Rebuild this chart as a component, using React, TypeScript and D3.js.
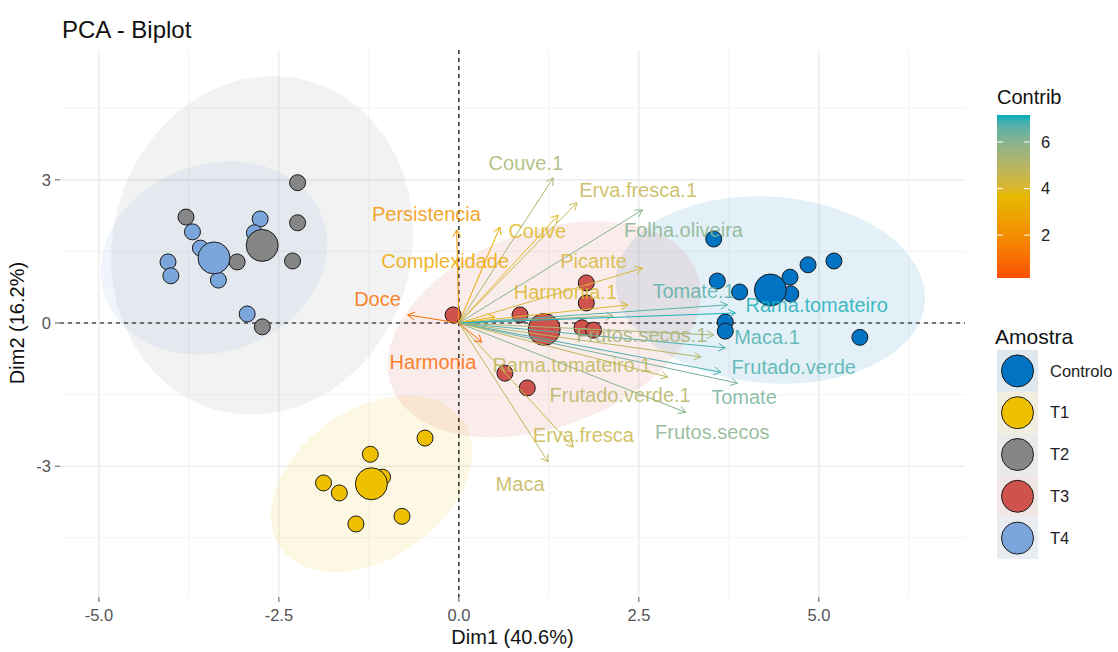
import React from 'react';
import * as d3 from 'd3';

// ---------- data ----------
const groups = ['Controlo', 'T1', 'T2', 'T3', 'T4'];
const groupColors = ['#0073C2', '#EFC000', '#868686', '#CD534C', '#7AA6DC'];

const indGroup = [
  'Controlo', 'Controlo', 'Controlo', 'Controlo', 'Controlo', 'Controlo', 'Controlo', 'Controlo', 'Controlo', 'Controlo',
  'T1', 'T1', 'T1', 'T1', 'T1', 'T1', 'T1', 'T1',
  'T2', 'T2', 'T2', 'T2', 'T2', 'T2',
  'T3', 'T3', 'T3', 'T3', 'T3', 'T3', 'T3', 'T3',
  'T4', 'T4', 'T4', 'T4', 'T4', 'T4', 'T4', 'T4',
];
const indDim1 = [
  3.54, 3.59, 3.90, 4.60, 4.61, 4.85, 5.21, 3.70, 3.70, 5.57,
  -0.47, -1.23, -1.88, -1.66, -1.43, -0.79, -1.06, -1.20,
  -2.24, -3.79, -2.24, -3.08, -2.31, -2.73,
  -0.08, 0.85, 1.77, 1.77, 0.64, 0.95, 1.71, 1.87,
  -3.70, -2.76, -2.84, -3.59, -4.04, -4.00, -3.34, -2.94,
];
const indDim2 = [
  1.76, 0.88, 0.65, 0.96, 0.61, 1.22, 1.30, 0.02, -0.17, -0.30,
  -2.41, -2.75, -3.35, -3.56, -4.21, -4.05, -3.23, -3.38,
  2.94, 2.22, 2.10, 1.28, 1.30, -0.08,
  0.17, 0.17, 0.84, 0.42, -1.05, -1.36, -0.10, -0.15,
  1.91, 2.18, 1.89, 1.57, 1.28, 0.99, 0.90, 0.19,
];

const varNames = [
  'Persistencia', 'Complexidade', 'Couve', 'Couve.1', 'Erva.fresca.1', 'Folha.oliveira', 'Picante', 'Harmonia.1',
  '', '', 'Tomate.1', 'Rama.tomateiro', 'Frutos.secos.1', 'Maca.1', 'Frutado.verde.1', 'Frutado.verde',
  'Tomate', 'Rama.tomateiro.1', 'Frutos.secos', 'Erva.fresca', 'Maca', 'Doce', 'Harmonia',
];
const varDim1 = [
  -0.03, 0.57, 1.38, 1.31, 1.64, 2.55, 2.55, 2.35,
  0.50, 2.14, 3.73, 3.84, 3.54, 3.70, 3.36, 3.64,
  3.87, 2.90, 3.15, 1.59, 1.24, -0.71, 0.32,
];
const varDim2 = [
  1.95, 2.01, 2.26, 3.04, 2.52, 2.37, 1.15, 0.38,
  0.13, 0.15, 0.38, 0.21, -0.25, -0.52, -0.71, -1.03,
  -1.26, -1.13, -1.87, -2.60, -2.91, 0.17, -0.40,
];
const varContrib = [
  2.3, 3.0, 3.9, 5.3, 4.6, 6.0, 4.2, 4.0,
  3.3, 5.6, 6.7, 7.1, 5.4, 6.8, 5.0, 6.8,
  6.3, 4.8, 6.0, 4.5, 4.7, 1.1, 0.9,
];
// label anchors (repelled), in Dim1/Dim2 units
const varLabelDim1 = [
  -0.45, -0.19, 1.09, 0.93, 2.49, 3.12, 1.87, 1.48,
  0, 0, 3.26, 4.97, 2.54, 4.28, 2.24, 4.65,
  3.96, 1.57, 3.52, 1.73, 0.85, -1.13, -0.36,
];
const varLabelDim2 = [
  2.29, 1.30, 1.93, 3.35, 2.79, 1.95, 1.30, 0.65,
  0, 0, 0.67, 0.38, -0.25, -0.29, -1.51, -0.92,
  -1.55, -0.88, -2.29, -2.35, -3.38, 0.50, -0.82,
];

const xTicks = [-5, -2.5, 0, 2.5, 5];
const xMinor = [-3.75, -1.25, 1.25, 3.75, 6.25];
const yTicks = [-3, 0, 3];
const yMinor = [-4.5, -1.5, 1.5, 4.5];
const contribTicks = [2, 4, 6];
const contribRange = [0.16, 7.16];
const gradientCols = ['#FC4E07', '#E7B800', '#00AFBB'];

const xLabel = 'Dim1 (40.6%)';
const yLabel = 'Dim2 (16.2%)';
const title = 'PCA - Biplot';

// ---------- layout ----------
const W = 1118;
const H = 652;
const panel = { left: 60, right: 965, top: 50, bottom: 597 };
const FONT = '"Liberation Sans", Arial, Helvetica, sans-serif';

const x = d3.scaleLinear().domain([-5.54, 7.03]).range([panel.left, panel.right]);
const y = d3.scaleLinear().domain([-5.74, 5.72]).range([panel.bottom, panel.top]);

const contribColor = d3
  .scaleLinear<string>()
  .domain([contribRange[0], (contribRange[0] + contribRange[1]) / 2, contribRange[1]])
  .range(gradientCols)
  .interpolate(d3.interpolateLab);

// F quantile with df1 = 2
function qf2(p: number, d: number) {
  return (d / 2) * (Math.pow(1 - p, -2 / d) - 1);
}

function ellipsePath(xs: number[], ys: number[]) {
  const n = xs.length;
  const mx = d3.mean(xs)!;
  const my = d3.mean(ys)!;
  let a = 0, b = 0, c = 0;
  for (let i = 0; i < n; i++) {
    a += (xs[i] - mx) ** 2;
    b += (xs[i] - mx) * (ys[i] - my);
    c += (ys[i] - my) ** 2;
  }
  a /= n - 1; b /= n - 1; c /= n - 1;
  const r11 = Math.sqrt(a);
  const r12 = b / r11;
  const r22 = Math.sqrt(Math.max(c - r12 * r12, 0));
  const radius = Math.sqrt(2 * qf2(0.95, n - 1));
  const pts: [number, number][] = d3.range(0, 52).map((k) => {
    const t = (k / 51) * 2 * Math.PI;
    const u = Math.cos(t), v = Math.sin(t);
    return [x(mx + radius * u * r11), y(my + radius * (u * r12 + v * r22))];
  });
  return d3.line().curve(d3.curveLinearClosed)(pts) || '';
}

function arrowHead(x1: number, y1: number, x2: number, y2: number, len = 8) {
  const ang = Math.atan2(y2 - y1, x2 - x1);
  const a1 = ang + Math.PI - Math.PI / 6;
  const a2 = ang + Math.PI + Math.PI / 6;
  return `M${x2 + len * Math.cos(a1)},${y2 + len * Math.sin(a1)}L${x2},${y2}L${x2 + len * Math.cos(a2)},${y2 + len * Math.sin(a2)}`;
}

export default function App() {
  const byGroup = groups.map((g) => {
    const idx = indGroup.map((gg, i) => (gg === g ? i : -1)).filter((i) => i >= 0);
    const xs = idx.map((i) => indDim1[i]);
    const ys = idx.map((i) => indDim2[i]);
    return { g, xs, ys, mx: d3.mean(xs)!, my: d3.mean(ys)! };
  });

  const cbar = d3.scaleLinear().domain(contribRange).range([278, 115]);
  const cbX = 997, cbW = 33;
  const gradStops = d3.range(0, 21).map((k) => k / 20);

  const keyX = 997, keyW = 41, keyTop = 350, keyH = 41.8;

  return (
    <svg width={W} height={H} style={{ position: 'absolute', left: 0, top: 0, background: '#fff' }} fontFamily={FONT}>
      <defs>
        <linearGradient id="cgrad" x1="0" y1="1" x2="0" y2="0">
          {gradStops.map((s) => (
            <stop key={s} offset={s} stopColor={contribColor(contribRange[0] + s * (contribRange[1] - contribRange[0]))} />
          ))}
        </linearGradient>
        <clipPath id="pclip">
          <rect x={panel.left} y={panel.top} width={panel.right - panel.left} height={panel.bottom - panel.top} />
        </clipPath>
      </defs>
      <rect width={W} height={H} fill="#fff" />

      {/* grid */}
      {xMinor.map((v) => (
        <line key={'xm' + v} x1={x(v)} x2={x(v)} y1={panel.top} y2={panel.bottom} stroke="#F0F0F0" strokeWidth={0.8} />
      ))}
      {yMinor.map((v) => (
        <line key={'ym' + v} y1={y(v)} y2={y(v)} x1={panel.left} x2={panel.right} stroke="#F0F0F0" strokeWidth={0.8} />
      ))}
      {xTicks.map((v) => (
        <line key={'xg' + v} x1={x(v)} x2={x(v)} y1={panel.top} y2={panel.bottom} stroke="#E6E6E6" strokeWidth={1.1} />
      ))}
      {yTicks.map((v) => (
        <line key={'yg' + v} y1={y(v)} y2={y(v)} x1={panel.left} x2={panel.right} stroke="#E6E6E6" strokeWidth={1.1} />
      ))}

      <g clipPath="url(#pclip)">
        {/* ellipses */}
        {byGroup.map((d, i) => (
          <path key={'el' + d.g} d={ellipsePath(d.xs, d.ys)} fill={groupColors[i]} fillOpacity={0.11} stroke="none" />
        ))}

        {/* reference lines */}
        <line x1={x(0)} x2={x(0)} y1={panel.top} y2={panel.bottom} stroke="#000" strokeWidth={1.2} strokeDasharray="4,4" />
        <line y1={y(0)} y2={y(0)} x1={panel.left} x2={panel.right} stroke="#000" strokeWidth={1.2} strokeDasharray="4,4" />

        {/* individuals */}
        {indDim1.map((v, i) => (
          <circle key={'p' + i} cx={x(v)} cy={y(indDim2[i])} r={8} fill={groupColors[groups.indexOf(indGroup[i])]} stroke="#1a1a1a" strokeWidth={1} />
        ))}
        {byGroup.map((d, i) => (
          <circle key={'m' + d.g} cx={x(d.mx)} cy={y(d.my)} r={16} fill={groupColors[i]} stroke="#1a1a1a" strokeWidth={1} />
        ))}

        {/* variable arrows */}
        {varDim1.map((v, i) => {
          const col = contribColor(varContrib[i]);
          const x1 = x(0), y1 = y(0), x2 = x(v), y2 = y(varDim2[i]);
          return (
            <g key={'a' + i} stroke={col} strokeWidth={1} fill="none">
              <line x1={x1} y1={y1} x2={x2} y2={y2} />
              <path d={arrowHead(x1, y1, x2, y2)} />
            </g>
          );
        })}
        {varNames.map((nm, i) =>
          nm ? (
            <text key={'t' + i} x={x(varLabelDim1[i])} y={y(varLabelDim2[i])} dy="0.35em" textAnchor="middle" fontSize={20} fill={contribColor(varContrib[i])} fillOpacity={0.85}>
              {nm}
            </text>
          ) : null
        )}
      </g>

      {/* axes ticks */}
      {xTicks.map((v) => (
        <g key={'xt' + v}>
          <line x1={x(v)} x2={x(v)} y1={panel.bottom} y2={panel.bottom + 5} stroke="#555" strokeWidth={1} />
          <text x={x(v)} y={panel.bottom + 24} textAnchor="middle" fontSize={16.5} fill="#555">
            {v.toFixed(1)}
          </text>
        </g>
      ))}
      {yTicks.map((v) => (
        <g key={'yt' + v}>
          <line x1={panel.left - 5} x2={panel.left} y1={y(v)} y2={y(v)} stroke="#555" strokeWidth={1} />
          <text x={panel.left - 9} y={y(v)} dy="0.35em" textAnchor="end" fontSize={16.5} fill="#555">
            {String(v)}
          </text>
        </g>
      ))}

      {/* titles */}
      <text x={62} y={38} fontSize={24} fill="#111">{title}</text>
      <text x={(panel.left + panel.right) / 2} y={644} textAnchor="middle" fontSize={20} fill="#111">{xLabel}</text>
      <text transform={`translate(24,${y(0)}) rotate(-90)`} textAnchor="middle" fontSize={20} fill="#111">{yLabel}</text>

      {/* Contrib legend */}
      <text x={cbX} y={104} fontSize={20} fill="#111">Contrib</text>
      <rect x={cbX} y={cbar(contribRange[1])} width={cbW} height={cbar(contribRange[0]) - cbar(contribRange[1])} fill="url(#cgrad)" />
      {contribTicks.map((t) => (
        <g key={'ct' + t}>
          <line x1={cbX} x2={cbX + 6} y1={cbar(t)} y2={cbar(t)} stroke="#fff" strokeWidth={1} />
          <line x1={cbX + cbW - 6} x2={cbX + cbW} y1={cbar(t)} y2={cbar(t)} stroke="#fff" strokeWidth={1} />
          <text x={cbX + cbW + 11} y={cbar(t)} dy="0.35em" fontSize={16.5} fill="#222">{t}</text>
        </g>
      ))}

      {/* Amostra legend */}
      <text x={995} y={344} fontSize={21} fill="#111">Amostra</text>
      {groups.map((g, i) => {
        const cy = keyTop + i * keyH + keyH / 2;
        return (
          <g key={'k' + g}>
            <rect x={keyX} y={keyTop + i * keyH} width={keyW} height={keyH} fill="#F2F2F2" />
            <rect x={keyX} y={keyTop + i * keyH} width={keyW} height={keyH} fill={groupColors[i]} fillOpacity={0.08} />
            <circle cx={keyX + keyW / 2} cy={cy} r={16} fill={groupColors[i]} stroke="#1a1a1a" strokeWidth={1} />
            <text x={1050} y={cy} dy="0.35em" fontSize={16.5} fill="#222">{g}</text>
          </g>
        );
      })}
    </svg>
  );
}
